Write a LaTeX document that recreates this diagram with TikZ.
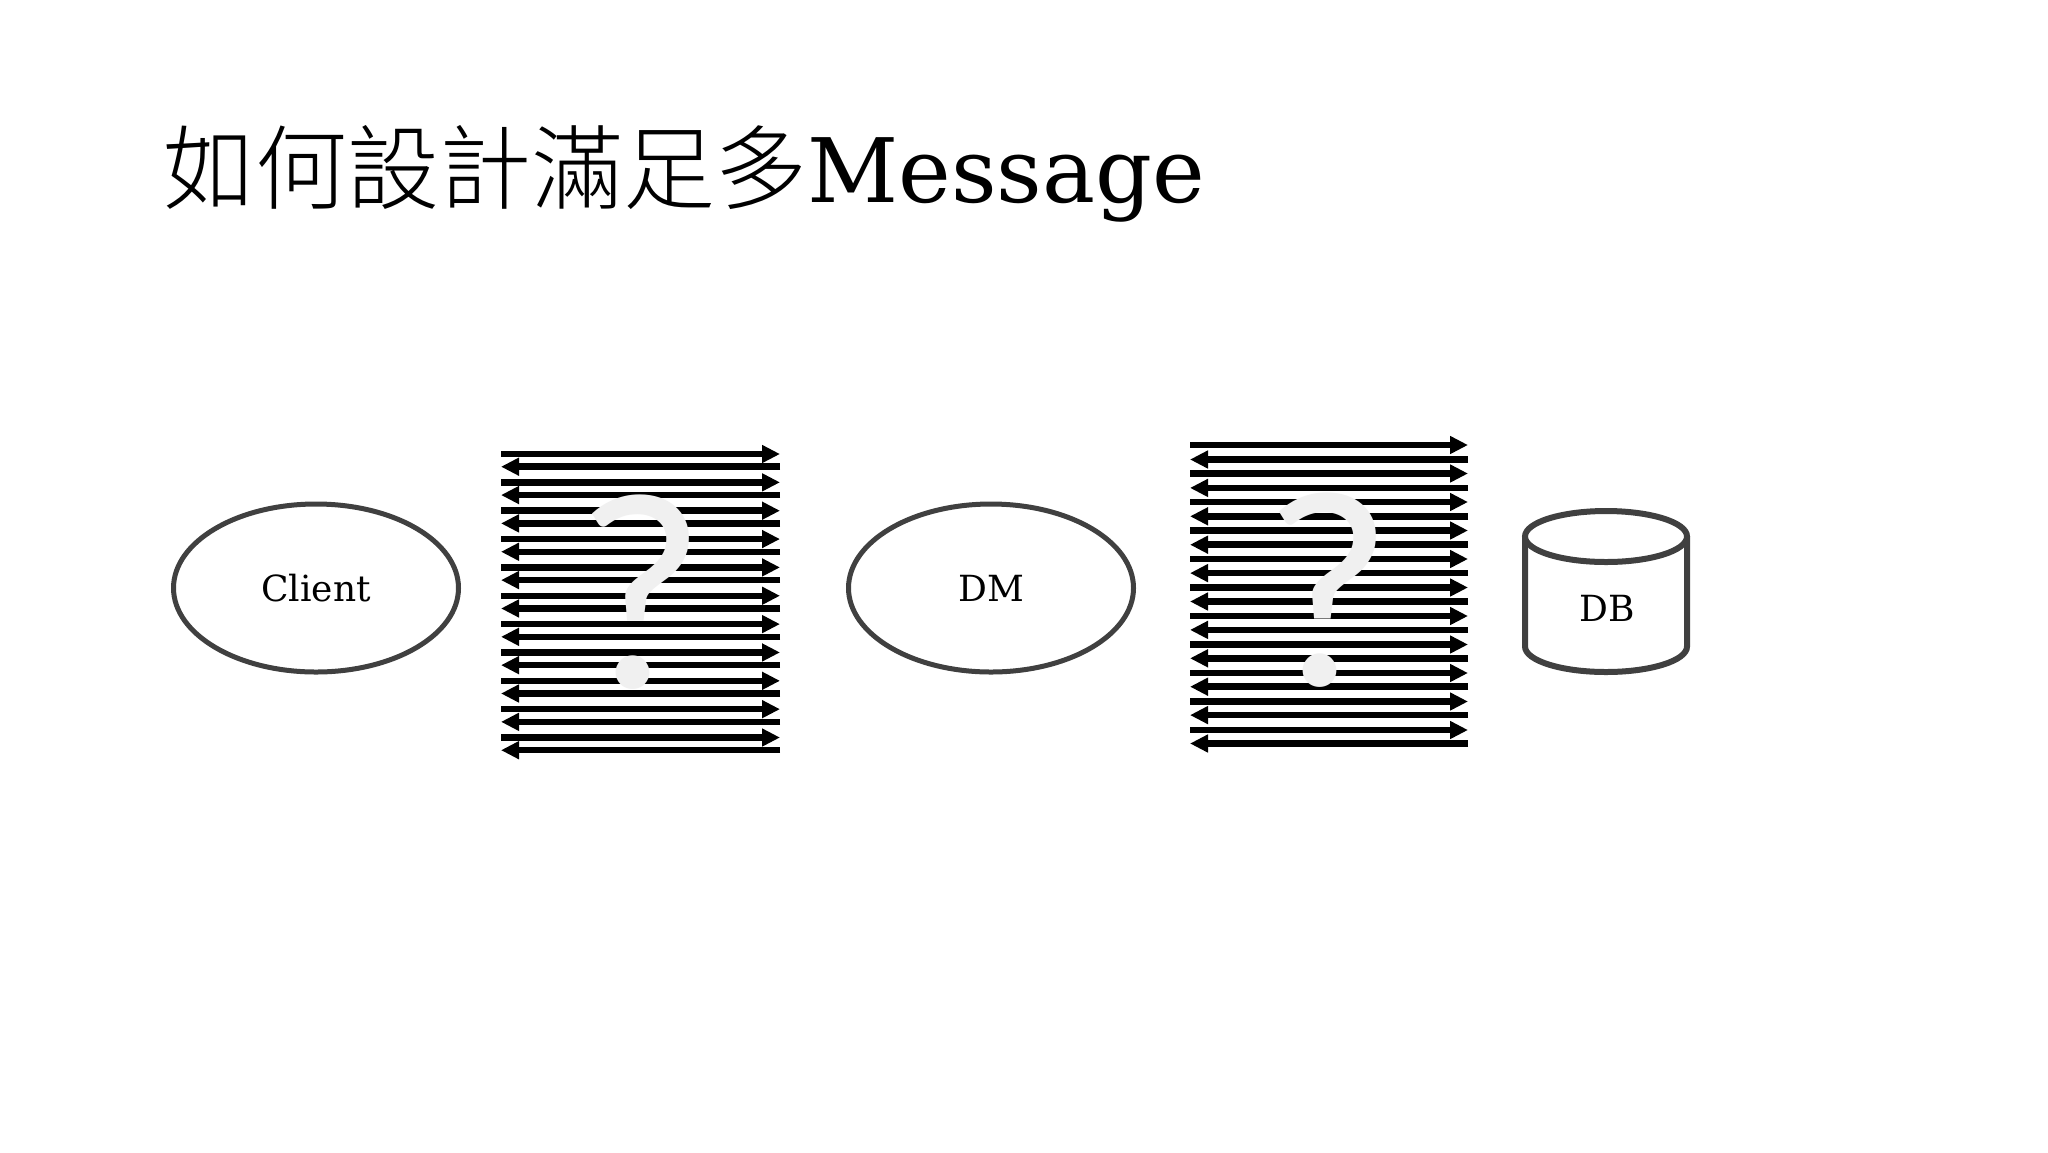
\documentclass[tikz,border=0pt]{standalone}
\usepackage{fontspec}
\setmainfont{DejaVu Serif}
\IfFontExistsTF{Noto Sans CJK TC Light}
  {\newfontfamily\cjk{Noto Sans CJK TC Light}}
  {\newfontfamily\cjk{Noto Sans CJK TC}}
\newfontfamily\qfont{Carlito}
\usetikzlibrary{shapes.geometric,arrows.meta}
\definecolor{edge}{HTML}{404040}
\definecolor{qgray}{HTML}{F0F0F0}
\tikzset{
  bar/.style={line width=3.25pt, -{Triangle[length=9pt,width=8.5pt]}},
  oval/.style={ellipse, draw=edge, line width=2.5pt, minimum width=142.5pt, minimum height=84pt, inner sep=0pt, font=\fontsize{18}{18}\selectfont},
  qmark/.style={anchor=base, text=qgray, inner sep=0pt, font=\qfont\fontsize{141}{141}\selectfont},
  lbl/.style={font=\fontsize{18}{18}\selectfont, inner sep=0pt}
}
\begin{document}
\begin{tikzpicture}[x=0.5pt,y=-0.5pt]
\useasboundingbox[fill=white] (0,0) rectangle (2048,1152);
% title
\node[anchor=base west, inner sep=0pt] (title) at (163,202)
  {{\cjk\fontsize{46}{46}\selectfont 如何設計滿足多}{\fontsize{44.5}{44.5}\selectfont Message}};
% ellipses
\node[oval] (client) at (316,588) {Client};
\node[oval] (dm) at (991,588) {DM};
% left arrow block
\foreach \i in {0,...,10}{
  \pgfmathsetmacro{\ya}{454+28.35*\i}
  \pgfmathsetmacro{\yb}{466.7+28.35*\i}
  \draw[bar] (501,\ya) -- (780,\ya);
  \draw[bar] (780,\yb) -- (501,\yb);
}
\node[qmark] (q1) at (641,687) {?};
% right arrow block
\foreach \i in {0,...,10}{
  \pgfmathsetmacro{\ya}{445+28.5*\i}
  \pgfmathsetmacro{\yb}{459.5+28.4*\i}
  \draw[bar] (1190,\ya) -- (1468,\ya);
  \draw[bar] (1468,\yb) -- (1190,\yb);
}
\node[qmark] (q2) at (1328,685) {?};
% DB cylinder
\draw[edge, line width=3pt, fill=white]
  (1525,536.5) -- (1525,646.5) arc[start angle=180, end angle=0, x radius=81, y radius=25.5]
  -- (1687,536.5);
\draw[edge, line width=3pt, fill=white] (1606,536.5) ellipse[x radius=81, y radius=25.5];
\node[lbl] (db) at (1607,608) {DB};
\end{tikzpicture}
\end{document}
